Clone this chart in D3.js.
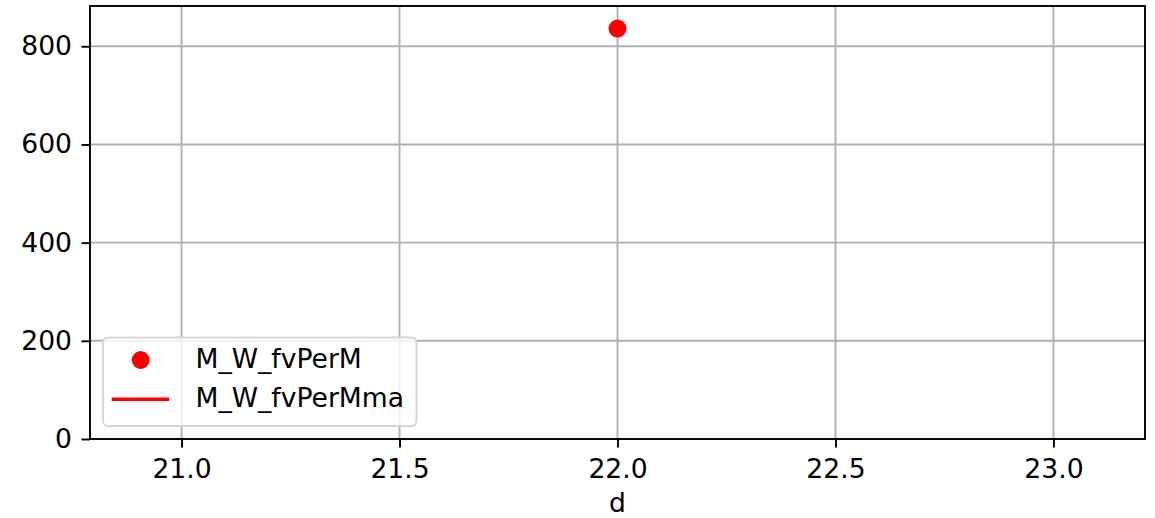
<!DOCTYPE html>
<html><head><meta charset="utf-8">
<script src="https://cdn.jsdelivr.net/npm/d3@7"></script>
<style>body{margin:0;background:#fff}svg{display:block}text{font-family:"DejaVu Sans",sans-serif;fill:#000}</style>
</head><body>
<script>
const days = [22];
const fvPerM = [836];
const fvPerMma = [836];
const xTicks = [21.0, 21.5, 22.0, 22.5, 23.0];
const yTicks = [0, 200, 400, 600, 800];
const seriesNames = ["M_W_fvPerM", "M_W_fvPerMma"];
const xLabel = "d";

const W = 1155, H = 518;
const m = {left: 90, right: 1145, top: 6, bottom: 439};
const FS = 26.6;
const svg = d3.select("body").append("svg").attr("width", W).attr("height", H);
const x = d3.scaleLinear().domain([20.79, 23.21]).range([m.left, m.right]);
const y = d3.scaleLinear().domain([0, 882]).range([m.bottom, m.top]);

// grid
svg.append("g").selectAll("line").data(xTicks).join("line")
  .attr("x1", d => x(d)).attr("x2", d => x(d)).attr("y1", m.top).attr("y2", m.bottom)
  .attr("stroke", "#b0b0b0").attr("stroke-width", 1.9);
svg.append("g").selectAll("line").data(yTicks).join("line")
  .attr("y1", d => y(d)).attr("y2", d => y(d)).attr("x1", m.left).attr("x2", m.right)
  .attr("stroke", "#b0b0b0").attr("stroke-width", 1.9);

// axes
const xAxis = d3.axisBottom(x).tickValues(xTicks).tickFormat(d3.format(".1f")).tickSize(8.5).tickPadding(12).tickSizeOuter(0);
const gx = svg.append("g").attr("transform", `translate(0,${m.bottom})`).call(xAxis);
const yAxis = d3.axisLeft(y).tickValues(yTicks).tickFormat(d3.format("d")).tickSize(8.5).tickPadding(9.5).tickSizeOuter(0);
const gy = svg.append("g").attr("transform", `translate(${m.left},0)`).call(yAxis);
[gx, gy].forEach(g => {
  g.select(".domain").remove();
  g.selectAll(".tick line").attr("stroke", "#000").attr("stroke-width", 1.9);
  g.selectAll("text").style("font-size", FS + "px").style("font-family", "DejaVu Sans");
});

// data
const pts = days.map((d, i) => ({x: d, y: fvPerM[i]}));
const ma = days.map((d, i) => ({x: d, y: fvPerMma[i]}));
svg.append("path").datum(ma)
  .attr("d", d3.line().x(d => x(d.x)).y(d => y(d.y)))
  .attr("fill", "none").attr("stroke", "red").attr("stroke-width", 3.6);
svg.append("g").selectAll("circle").data(pts).join("circle")
  .attr("cx", d => x(d.x)).attr("cy", d => y(d.y)).attr("r", 9).attr("fill", "red");

// frame
svg.append("rect").attr("x", m.left).attr("y", m.top).attr("width", m.right - m.left).attr("height", m.bottom - m.top)
  .attr("fill", "none").attr("stroke", "#000").attr("stroke-width", 1.9);

// x label
svg.append("text").attr("x", (m.left + m.right) / 2).attr("y", 511.5).attr("text-anchor", "middle")
  .style("font-size", FS + "px").text(xLabel);

// legend
const lg = svg.append("g");
lg.append("rect").attr("x", 103).attr("y", 337.5).attr("width", 313.5).attr("height", 88.5).attr("rx", 5)
  .attr("fill", "#fff").attr("fill-opacity", 0.8).attr("stroke", "#d6d6d6").attr("stroke-width", 1.9);
lg.append("circle").attr("cx", 140.7).attr("cy", 360).attr("r", 9).attr("fill", "red");
lg.append("line").attr("x1", 111.7).attr("x2", 169.3).attr("y1", 399.3).attr("y2", 399.3).attr("stroke", "red").attr("stroke-width", 3.6);
lg.selectAll("text").data(seriesNames).join("text")
  .attr("x", 195.5).attr("y", (d, i) => 368 + i * 39.3)
  .style("font-size", FS + "px").text(d => d);
</script>
</body></html>
